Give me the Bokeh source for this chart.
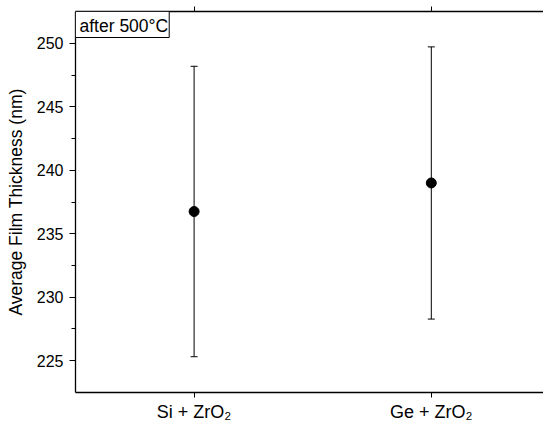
from bokeh.plotting import figure
from bokeh.models import (ColumnDataSource, Whisker, TeeHead, FixedTicker, LinearAxis,
                          Range1d, Label)
from bokeh.embed import file_html
from bokeh.resources import INLINE

categories = ["Si + ZrO\u2082", "Ge + ZrO\u2082"]
positions = [1, 2]
thickness = [236.75, 239.0]
error = [11.45, 10.73]
y_ticks = [225, 230, 235, 240, 245, 250]
y_minor = [227.5, 232.5, 237.5, 242.5, 247.5]
annotation = "after 500\u00b0C"

FONT = "Liberation Sans"

src = ColumnDataSource(dict(
    x=positions,
    y=thickness,
    lower=[t - e for t, e in zip(thickness, error)],
    upper=[t + e for t, e in zip(thickness, error)],
))

p = figure(width=543, height=429, output_backend="svg", toolbar_location=None,
           x_range=Range1d(0.5, 2.473), y_range=Range1d(222.48, 252.52),
           min_border_left=75, min_border_top=11, min_border_bottom=37, min_border_right=0,
           x_axis_location="below")
p.outline_line_color = None
p.xgrid.visible = False
p.ygrid.visible = False
p.background_fill_color = "white"
p.border_fill_color = "white"

w = Whisker(source=src, base="x", lower="lower", upper="upper",
            line_color="black", line_width=1,
            upper_head=TeeHead(size=7, line_color="black", line_width=1),
            lower_head=TeeHead(size=7, line_color="black", line_width=1))
p.add_layout(w)
p.scatter("x", "y", source=src, size=10, color="black")

xa = p.xaxis[0]
xa.ticker = FixedTicker(ticks=positions)
xa.major_label_overrides = {pos: c for pos, c in zip(positions, categories)}
xa.major_tick_in = 0
xa.major_tick_out = 5
xa.minor_tick_out = 0
xa.minor_tick_in = 0
xa.major_label_text_font = FONT
xa.major_label_text_font_size = "18px"
xa.major_label_text_color = "black"
xa.axis_line_color = "black"
xa.axis_line_width = 1.3
xa.major_label_standoff = 4

top = LinearAxis(ticker=FixedTicker(ticks=positions),
                 major_label_overrides={pos: "" for pos in positions},
                 major_tick_in=0, major_tick_out=5, minor_tick_in=0, minor_tick_out=0,
                 axis_line_color="black", axis_line_width=1.3, major_label_standoff=0)
p.add_layout(top, "above")

ya = p.yaxis[0]
ya.ticker = FixedTicker(ticks=y_ticks, minor_ticks=y_minor)
ya.axis_label = "Average Film Thickness (nm)"
ya.axis_label_text_font = FONT
ya.axis_label_text_font_style = "normal"
ya.axis_label_text_font_size = "17.5px"
ya.axis_label_text_color = "black"
ya.axis_label_standoff = 8
ya.major_label_text_font = FONT
ya.major_label_text_font_size = "16px"
ya.major_label_text_color = "black"
ya.major_tick_in = 0
ya.major_tick_out = 6
ya.minor_tick_in = 0
ya.minor_tick_out = 4
ya.axis_line_color = "black"
ya.axis_line_width = 1.3
ya.major_label_standoff = 6

lab = Label(x=0.5, y=252.52, text=annotation, text_font=FONT, text_font_size="17.5px",
            text_color="black",
            text_baseline="top", text_align="left", x_offset=0, y_offset=0,
            padding=(4, 1, 4, 2),
            border_line_color="black", border_line_width=1,
            background_fill_color="white")
p.add_layout(lab)

open("out.html", "w").write(file_html(p, INLINE))
